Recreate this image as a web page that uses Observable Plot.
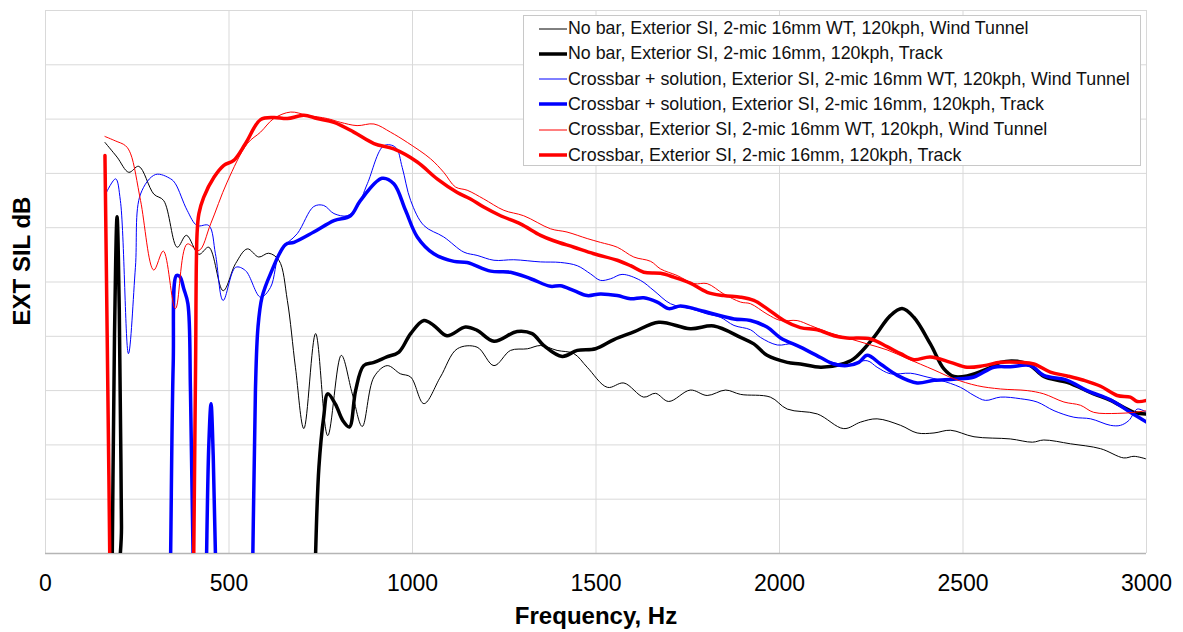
<!DOCTYPE html>
<html><head><meta charset="utf-8">
<script src="https://cdn.jsdelivr.net/npm/d3@7"></script>
<script src="https://cdn.jsdelivr.net/npm/@observablehq/plot@0.6"></script>
<style>
body{margin:0;background:#fff;font-family:"Liberation Sans",Arial,sans-serif;}
#wrap{position:relative;width:1183px;height:632px;overflow:hidden;}
#legend{position:absolute;left:523px;top:15px;width:618px;height:151px;border:1px solid #c8c8c8;background:#fff;box-sizing:border-box;}
.row{position:absolute;left:0;height:25px;display:flex;align-items:center;font-size:17.8px;color:#111;white-space:nowrap;}
.sw{display:block;margin-left:15px;margin-right:1px;}
#ytitle{position:absolute;left:22px;top:261px;transform:translate(-50%,-50%) rotate(-90deg);font-weight:bold;font-size:24px;white-space:nowrap;line-height:1;}
#xtitle{position:absolute;left:596px;top:616px;transform:translate(-50%,-50%);font-weight:bold;font-size:24px;white-space:nowrap;line-height:1;}
</style></head><body><div id="wrap"></div>
<script>
// Frequency (Hz), level (relative units; grid every 10) pairs
const noBarWT = [[162,75.7],[195,73.0],[227,70.2],[254,71.3],[295,66.2],[322,65.0],[359,56.4],[384,58.6],[418,55.1],[445,56.4],[484,48.4],[518,53.4],[550,56.1],[581,54.6],[608,55.3],[636,54.0],[659,46.6],[681,34.3],[704,23.0],[736,40.5],[769,21.7],[806,36.5],[836,29.4],[863,23.4],[895,32.5],[931,34.6],[967,33.1],[995,32.5],[1031,27.6],[1076,32.5],[1122,37.7],[1176,38.0],[1222,34.6],[1267,37.4],[1313,37.7],[1349,38.3],[1394,37.4],[1440,36.8],[1476,34.3],[1531,30.6],[1576,31.4],[1630,28.8],[1662,29.5],[1698,28.0],[1757,30.1],[1803,29.1],[1853,30.1],[1894,29.3],[1975,28.8],[2021,26.6],[2103,25.7],[2175,23.0],[2221,24.2],[2266,24.8],[2330,23.6],[2375,22.2],[2421,22.2],[2466,22.7],[2530,21.5],[2629,21.1],[2689,20.5],[2720,20.9],[2793,20.2],[2875,19.3],[2938,17.6],[2966,17.9],[3000,17.4]];
const noBarTrack = [[162,-40],[176,-40],[182,0],[188,40],[195,62],[201,45],[207,5],[212,-40],[725,-40],[736,0],[745,15.9],[758,25.1],[769,29.4],[790,27.5],[810,24.5],[828,23.3],[845,30],[867,34.6],[895,35.2],[930,36.2],[963,37.1],[995,40.5],[1031,42.9],[1058,42.0],[1094,40.1],[1144,41.7],[1176,41.1],[1222,39.1],[1285,40.9],[1326,40.5],[1358,38.3],[1408,36.3],[1449,37.4],[1499,37.7],[1549,39.4],[1603,40.8],[1671,42.6],[1757,41.4],[1821,41.9],[1894,39.8],[1930,38.6],[1966,36.5],[2021,35.2],[2057,34.9],[2112,34.3],[2166,34.8],[2203,35.9],[2257,39.8],[2302,43.8],[2334,45.1],[2366,43.5],[2411,38.6],[2448,34.0],[2475,32.6],[2511,32.7],[2566,34.0],[2602,35.2],[2648,35.4],[2684,34.6],[2720,32.6],[2784,31.5],[2856,29.4],[2902,28.2],[2966,26.0],[3000,25.7]];
const crossSolWT = [[166,66.5],[191,69.0],[204,65.0],[226,36.8],[245,52.7],[259,66.2],[300,69.8],[341,69.0],[354,68.1],[386,63.2],[413,60.4],[445,60.4],[463,55.2],[484,46.6],[518,52.7],[545,52.1],[586,47.2],[613,49.0],[640,55.8],[686,58.9],[731,63.9],[758,64.1],[786,62.6],[822,62.2],[849,63.8],[877,68.1],[922,75.1],[954,74.8],[972,71.1],[995,65.0],[1031,60.4],[1085,58.3],[1140,55.5],[1176,54.9],[1222,54.0],[1276,54.1],[1349,53.7],[1403,53.6],[1449,53.0],[1485,51.5],[1512,50.3],[1540,50.6],[1571,51.4],[1621,50.3],[1658,48.4],[1703,46.0],[1757,45.1],[1803,44.1],[1839,43.5],[1876,42.0],[1921,41.2],[1948,39.8],[1994,38.4],[2039,38.6],[2084,37.1],[2130,35.5],[2184,34.8],[2239,35.5],[2266,34.3],[2302,33.1],[2357,33.2],[2402,32.5],[2439,31.9],[2493,30.6],[2530,29.1],[2561,28.2],[2602,28.8],[2657,28.5],[2702,27.9],[2748,26.3],[2802,25.1],[2848,24.8],[2902,23.6],[2929,23.6],[2952,24.5],[2975,26.6],[3000,26.0]];
const crossSolTrack = [[165,-40],[334,-40],[341,0],[348,35],[357,51.2],[366,51.0],[377,48.7],[388,46.0],[395,30],[402,0],[408,-40],[432,-40],[439,0],[445,20],[451,27.6],[457,18],[463,0],[469,-40],[556,-40],[565,0],[572,30],[579,41.7],[590,47.2],[613,51.5],[654,56.9],[677,57.3],[731,59.2],[786,61.3],[831,62.2],[858,65.0],[917,69.1],[949,68.1],[981,63.2],[1013,58.3],[1058,55.2],[1113,53.8],[1149,53.6],[1213,52.0],[1267,51.8],[1322,50.6],[1376,49.2],[1403,49.3],[1440,48.4],[1476,47.5],[1512,47.8],[1558,47.5],[1594,46.9],[1630,47.1],[1667,46.3],[1698,45.1],[1730,45.6],[1767,45.1],[1821,44.1],[1876,43.2],[1921,42.9],[1966,41.7],[2003,39.7],[2057,38.0],[2112,36.1],[2148,34.9],[2184,34.6],[2216,35.2],[2239,36.5],[2275,34.9],[2321,32.8],[2375,31.4],[2421,31.9],[2475,32.1],[2530,32.5],[2584,34.3],[2629,34.4],[2684,34.6],[2720,32.8],[2784,31.9],[2838,30.0],[2902,28.3],[2956,26.0],[3000,24.2]];
const crossWT = [[162,76.8],[190,76],[218,75.1],[232,73.6],[259,65.0],[295,52.2],[321,55.7],[354,45.1],[386,57.0],[418,55.8],[450,60.7],[495,68.4],[550,75.5],[586,77.6],[622,80.1],[668,81.3],[713,80.7],[768,80.1],[804,79.4],[849,78.8],[895,79.1],[940,77.6],[986,75.7],[1049,72.7],[1085,70.2],[1117,67.5],[1149,66.9],[1194,65.3],[1249,63.2],[1303,62.2],[1376,59.8],[1421,59.2],[1476,58.0],[1512,57.3],[1558,56.4],[1603,54.6],[1649,53.8],[1676,52.4],[1721,51.2],[1767,49.7],[1803,49.7],[1848,47.8],[1894,46.3],[1921,46.0],[1966,44.1],[2003,42.9],[2048,42.9],[2084,42.0],[2130,40.8],[2184,39.7],[2239,38.6],[2293,37.5],[2348,35.9],[2421,33.8],[2475,32.2],[2539,30.9],[2602,30.3],[2675,30.0],[2720,29.4],[2775,27.9],[2820,27.3],[2856,26.0],[2920,25.8],[2966,26.0],[3000,26.3]];
const crossTrack = [[162,73.3],[168,40.5],[175,0],[180,-40],[398,-40],[404,0],[409,35],[413,58.9],[418,62.6],[431,65.6],[459,69.3],[486,71.5],[513,72.4],[545,75.5],[586,79.9],[622,80.3],[659,80.1],[704,80.7],[740,80.1],[786,79.4],[840,77.6],[895,75.5],[949,74.5],[1013,72.1],[1067,69.0],[1122,66.5],[1158,65.3],[1194,63.8],[1240,62.2],[1294,60.7],[1349,58.6],[1385,57.6],[1440,56.4],[1494,55.2],[1558,54.0],[1594,53.0],[1630,51.8],[1676,51.6],[1712,50.9],[1757,49.8],[1803,48.1],[1848,47.5],[1894,47.2],[1930,46.6],[1966,45.1],[2012,42.9],[2057,41.6],[2103,41.2],[2148,40.1],[2184,39.7],[2248,39.5],[2293,38.1],[2330,36.8],[2366,35.7],[2411,36.2],[2466,35.2],[2511,34.3],[2557,34.6],[2602,35.2],[2657,35.2],[2693,34.9],[2738,33.4],[2784,32.7],[2829,31.9],[2875,30.8],[2920,29.1],[2956,28.8],[2975,28.0],[3000,28.2]];

const seriesNames = [
  "No bar, Exterior SI, 2-mic 16mm WT, 120kph, Wind Tunnel",
  "No bar, Exterior SI, 2-mic 16mm, 120kph, Track",
  "Crossbar + solution, Exterior SI, 2-mic 16mm WT, 120kph, Wind Tunnel",
  "Crossbar + solution, Exterior SI, 2-mic 16mm, 120kph, Track",
  "Crossbar, Exterior SI, 2-mic 16mm WT, 120kph, Wind Tunnel",
  "Crossbar, Exterior SI, 2-mic 16mm, 120kph, Track"
];
const seriesData = [noBarWT, noBarTrack, crossSolWT, crossSolTrack, crossWT, crossTrack];
const seriesColors = ["#000000","#000000","#0000ff","#0000ff","#ff0000","#ff0000"];
const seriesWidths = [1, 3.5, 1, 3.5, 1, 3.5];
const xTicks = [0, 500, 1000, 1500, 2000, 2500, 3000];
const yGrid = [0,10,20,30,40,50,60,70,80,90,100];
const xTitle = "Frequency, Hz";
const yTitle = "EXT SIL dB";

const chart = Plot.plot({
  width: 1183, height: 632,
  marginLeft: 45, marginRight: 37, marginTop: 10, marginBottom: 79,
  style: {fontFamily: '"Liberation Sans", Arial, sans-serif', background: "#fff", color: "#000"},
  x: {domain: [0, 3000]},
  y: {domain: [0, 100], axis: null},
  marks: [
    Plot.gridX(xTicks, {stroke: "#d9d9d9", strokeOpacity: 1}),
    Plot.gridY(yGrid, {stroke: "#d9d9d9", strokeOpacity: 1}),
    Plot.ruleY([0], {stroke: "#b5b5b5", strokeWidth: 1.5}),
    Plot.axisX(xTicks, {tickSize: 0, tickPadding: 21, fontSize: 23, label: null, tickFormat: d => String(d)}),
    ...seriesData.map((d, i) => Plot.line(d, {
      x: p => p[0], y: p => p[1],
      stroke: seriesColors[i], strokeWidth: seriesWidths[i],
      curve: "catmull-rom", clip: true
    }))
  ]
});
const wrap = document.getElementById("wrap");
wrap.appendChild(chart);

const NS = "http://www.w3.org/2000/svg";
const lg = document.createElement("div");
lg.id = "legend";
seriesNames.forEach((name, i) => {
  const row = document.createElement("div");
  row.className = "row";
  row.style.top = (0 + 25.3 * i) + "px";
  const sw = document.createElementNS(NS, "svg");
  sw.setAttribute("class", "sw");
  sw.setAttribute("width", "28");
  sw.setAttribute("height", "8");
  const ln = document.createElementNS(NS, "line");
  ln.setAttribute("x1", "0"); ln.setAttribute("x2", "28");
  ln.setAttribute("y1", "4"); ln.setAttribute("y2", "4");
  ln.setAttribute("stroke", seriesColors[i]);
  ln.setAttribute("stroke-width", String(seriesWidths[i]));
  sw.appendChild(ln);
  row.appendChild(sw);
  const t = document.createElement("span");
  t.textContent = name;
  row.appendChild(t);
  lg.appendChild(row);
});
wrap.appendChild(lg);

const yt = document.createElement("div");
yt.id = "ytitle"; yt.textContent = yTitle; wrap.appendChild(yt);
const xt = document.createElement("div");
xt.id = "xtitle"; xt.textContent = xTitle; wrap.appendChild(xt);
</script>
</body></html>
